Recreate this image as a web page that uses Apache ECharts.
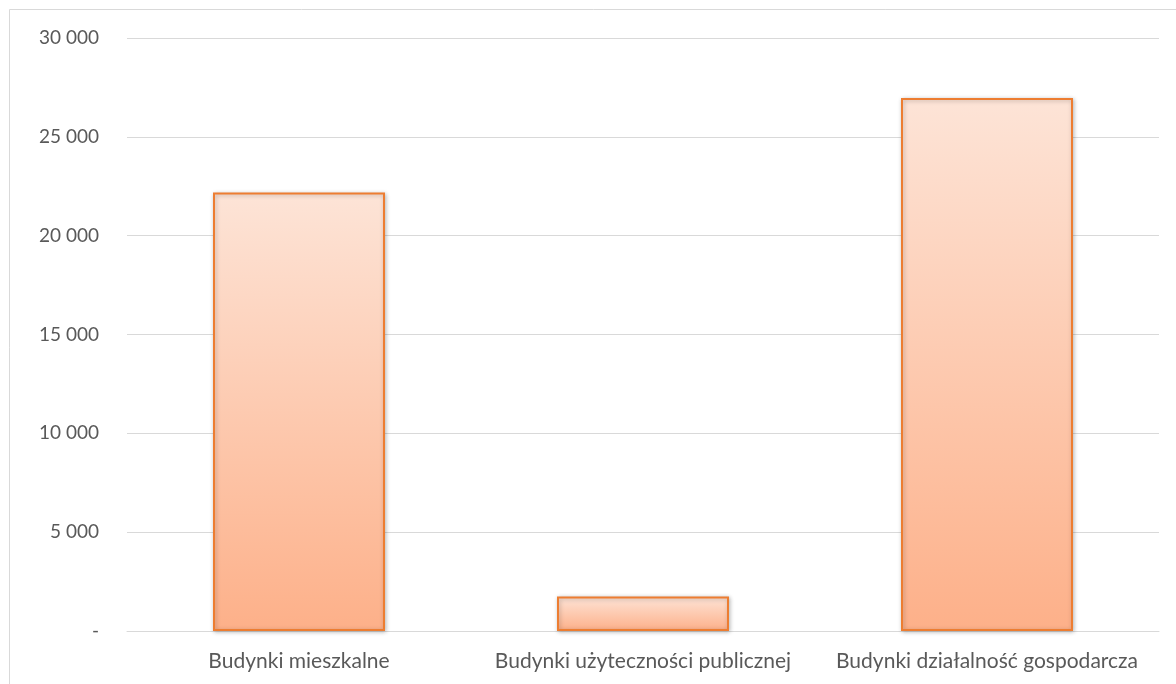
<!DOCTYPE html>
<html>
<head>
<meta charset="utf-8">
<script src="https://cdn.jsdelivr.net/npm/echarts@6/dist/echarts.min.js"></script>
<style>
  html, body { margin: 0; padding: 0; background: #fff; }
  #chart { width: 1176px; height: 684px; }
</style>
</head>
<body>
<div id="chart"></div>
<script>
// dane wykresu
var categories = ['Budynki mieszkalne', 'Budynki użyteczności publicznej', 'Budynki działalność gospodarcza'];
var values = [22180, 1750, 26970];
var yTicks = [0, 5000, 10000, 15000, 20000, 25000, 30000];

var fontFamily = 'Lato, "Open Sans", sans-serif';

// formatowanie liczb jak w Excelu: "30 000", a zero jako "-"
function fmt(v) {
    if (v === 0) return '-';
    return String(v).replace(/\B(?=(\d{3})+(?!\d))/g, ' ');
}

var myChart = echarts.init(document.getElementById('chart'), null, { renderer: 'canvas' });

var option = {
    animation: false,
    backgroundColor: '#ffffff',
    grid: { left: 127, right: 17, top: 38, bottom: 53, containLabel: false },
    graphic: [{
        type: 'rect',
        shape: { x: 9.5, y: 9.5, width: 1300, height: 800 },
        style: { fill: 'none', stroke: '#d9d9d9', lineWidth: 1 },
        silent: true
    }],
    xAxis: {
        type: 'category',
        data: categories,
        axisLine: { show: true, lineStyle: { color: '#d9d9d9', width: 1 } },
        axisTick: { show: false },
        axisLabel: { color: '#595959', fontSize: 21, fontFamily: fontFamily, margin: 20, interval: 0 }
    },
    yAxis: {
        type: 'value',
        min: yTicks[0],
        max: yTicks[yTicks.length - 1],
        interval: yTicks[1] - yTicks[0],
        axisLine: { show: false },
        axisTick: { show: false },
        splitLine: { lineStyle: { color: '#d9d9d9', width: 1 } },
        axisLabel: { color: '#595959', fontSize: 19, fontFamily: fontFamily, margin: 28, formatter: fmt }
    },
    series: [{
        type: 'bar',
        data: values,
        barWidth: '50%',
        itemStyle: {
            color: new echarts.graphic.LinearGradient(0, 0, 0, 1, [
                { offset: 0, color: '#fde4d7' },
                { offset: 1, color: '#fdb089' }
            ]),
            borderColor: '#ed7d31',
            borderWidth: 2,
            shadowColor: 'rgba(0,0,0,0.25)',
            shadowBlur: 4,
            shadowOffsetX: 1,
            shadowOffsetY: 1
        }
    }]
};

myChart.setOption(option);
</script>
</body>
</html>
